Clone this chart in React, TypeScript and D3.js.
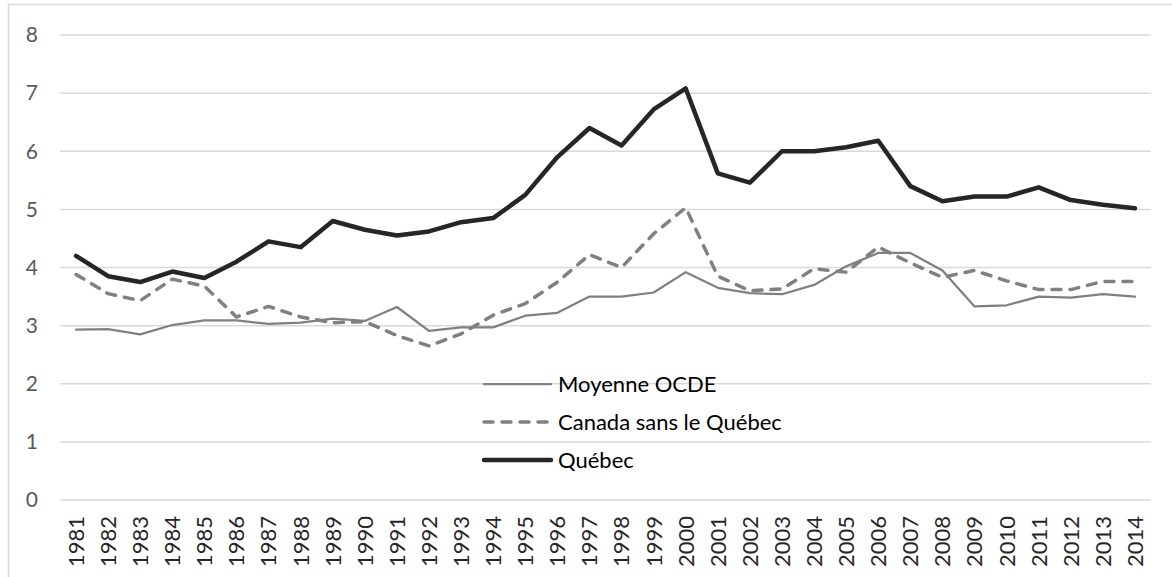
import { useEffect, useRef } from "react";
import * as d3 from "d3";

const years = d3.range(1981, 2015).map(String);

const ocde = [
  2.93, 2.94, 2.85, 3.01, 3.09, 3.09, 3.03, 3.05, 3.12, 3.08,
  3.32, 2.91, 2.97, 2.97, 3.17, 3.22, 3.5, 3.5, 3.57, 3.92,
  3.65, 3.56, 3.54, 3.7, 4.02, 4.25, 4.25, 3.95, 3.33, 3.35,
  3.5, 3.48, 3.54, 3.5,
];

const canada = [
  3.88, 3.55, 3.43, 3.8, 3.68, 3.15, 3.33, 3.15, 3.05, 3.07,
  2.83, 2.65, 2.86, 3.18, 3.38, 3.75, 4.22, 4.0, 4.58, 5.03,
  3.85, 3.6, 3.63, 3.98, 3.92, 4.35, 4.08, 3.83, 3.95, 3.77,
  3.62, 3.62, 3.76, 3.76,
];

const quebec = [
  4.2, 3.85, 3.75, 3.93, 3.82, 4.1, 4.45, 4.35, 4.8, 4.65,
  4.55, 4.62, 4.78, 4.85, 5.25, 5.9, 6.4, 6.1, 6.72, 7.08,
  5.62, 5.46, 6.0, 6.0, 6.07, 6.18, 5.4, 5.14, 5.22, 5.22,
  5.38, 5.16, 5.08, 5.02,
];

const yTicks = [0, 1, 2, 3, 4, 5, 6, 7, 8];

const seriesNames = ["Moyenne OCDE", "Canada sans le Québec", "Québec"];

const App = () => {
  const svgRef = useRef<SVGSVGElement | null>(null);

  useEffect(() => {
    const svg = d3.select(svgRef.current);
    svg.selectAll("*").remove();

    const width = 1172;
    const height = 577;
    const font = "Lato, 'Open Sans', sans-serif";

    const x = d3.scaleBand().domain(years).range([60, 1151]);
    const y = d3.scaleLinear().domain([0, 8]).range([500, 35]);
    const cx = (i: number) => (x(years[i]) as number) + x.bandwidth() / 2;

    svg.attr("width", width).attr("height", height);

    svg.append("rect")
      .attr("x", 0).attr("y", 0)
      .attr("width", width).attr("height", height)
      .attr("fill", "#ffffff");

    // chart frame
    svg.append("rect")
      .attr("x", 8.5).attr("y", 4.5)
      .attr("width", width + 10).attr("height", height + 10)
      .attr("fill", "none")
      .attr("stroke", "#d9d9d9")
      .attr("stroke-width", 1.5);

    // gridlines
    svg.append("g")
      .selectAll("line")
      .data(yTicks)
      .enter()
      .append("line")
      .attr("x1", 60)
      .attr("x2", 1151)
      .attr("y1", d => y(d))
      .attr("y2", d => y(d))
      .attr("stroke", "#d9d9d9")
      .attr("stroke-width", 1.5);

    // y labels
    svg.append("g")
      .selectAll("text")
      .data(yTicks)
      .enter()
      .append("text")
      .attr("x", 38)
      .attr("y", d => y(d))
      .attr("dy", "0.35em")
      .attr("text-anchor", "end")
      .attr("fill", "#595959")
      .attr("font-family", font)
      .attr("font-size", 21)
      .text(d => d);

    // x labels (rotated)
    svg.append("g")
      .selectAll("text")
      .data(years)
      .enter()
      .append("text")
      .attr("transform", (d, i) => `translate(${cx(i)},516) rotate(-90)`)
      .attr("dy", "0.36em")
      .attr("text-anchor", "end")
      .attr("fill", "#262626")
      .attr("font-family", font)
      .attr("font-size", 22)
      .text(d => d);

    const line = d3.line<number>()
      .x((d, i) => cx(i))
      .y(d => y(d));

    const styles = [
      { data: ocde, color: "#808080", w: 2.25, dash: null },
      { data: canada, color: "#808080", w: 3.5, dash: "9,9" },
      { data: quebec, color: "#262626", w: 4.5, dash: null },
    ];

    styles.forEach(s => {
      svg.append("path")
        .attr("d", line(s.data))
        .attr("fill", "none")
        .attr("stroke", s.color)
        .attr("stroke-width", s.w)
        .attr("stroke-linejoin", "round")
        .attr("stroke-linecap", "round")
        .attr("stroke-dasharray", s.dash);
    });

    // legend
    const legendY = [384, 422, 460];
    styles.forEach((s, i) => {
      svg.append("line")
        .attr("x1", 484)
        .attr("x2", 551)
        .attr("y1", legendY[i])
        .attr("y2", legendY[i])
        .attr("stroke", s.color)
        .attr("stroke-width", s.w)
        .attr("stroke-linecap", "round")
        .attr("stroke-dasharray", s.dash);

      svg.append("text")
        .attr("x", 558)
        .attr("y", legendY[i])
        .attr("dy", "0.35em")
        .attr("fill", "#000000")
        .attr("font-family", font)
        .attr("font-size", 22)
        .text(seriesNames[i]);
    });
  }, []);

  return (
    <svg
      ref={svgRef}
      style={{ position: "absolute", left: 0, top: 0, display: "block" }}
    ></svg>
  );
};

export default App;
